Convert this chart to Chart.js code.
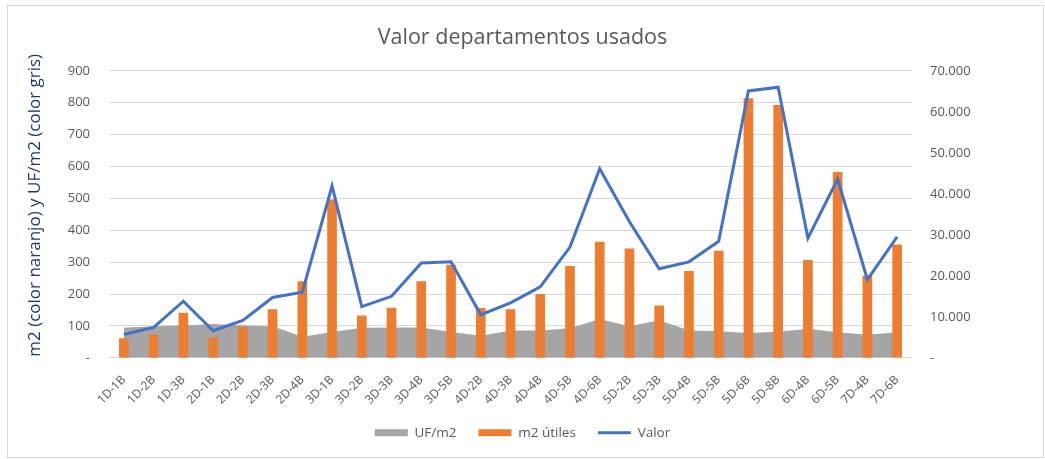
<!DOCTYPE html>
<html>
<head>
<meta charset="utf-8">
<script src="https://cdn.jsdelivr.net/npm/chart.js"></script>
<style>
    html, body { margin: 0; padding: 0; background: #ffffff; }
    #wrap { width: 1045px; height: 459px; }
</style>
</head>
<body>
<div id="wrap"><canvas id="graficoValor"></canvas></div>
<script>
const labels = [
    '1D-1B', '1D-2B', '1D-3B', '2D-1B', '2D-2B', '2D-3B', '2D-4B',
    '3D-1B', '3D-2B', '3D-3B', '3D-4B', '3D-5B',
    '4D-2B', '4D-3B', '4D-4B', '4D-5B', '4D-6B',
    '5D-2B', '5D-3B', '5D-4B', '5D-5B', '5D-6B', '5D-8B',
    '6D-4B', '6D-5B', '7D-4B', '7D-6B',
];

// UF/m2 (area gris)
const ufM2 = [94, 99, 101, 106, 101, 99, 66, 81, 94, 95, 95, 81, 69, 86, 86, 93, 122, 99, 118, 86, 83, 78, 82, 91, 80, 72, 80];

// m2 utiles (barras naranjas)
const m2Utiles = [60, 72, 140, 63, 96, 151, 239, 495, 132, 156, 239, 291, 155, 151, 199, 287, 363, 342, 163, 271, 335, 813, 792, 306, 582, 257, 354];

// Valor (linea azul, eje derecho)
const valor = [5700, 7400, 13800, 6600, 9100, 14700, 16000, 41900, 12500, 15000, 23100, 23400, 10500, 13400, 17300, 27000, 46100, 33200, 21700, 23400, 28400, 65100, 66000, 29200, 43600, 19100, 29500];

const ticksIzq = [0, 100, 200, 300, 400, 500, 600, 700, 800, 900];
const ticksDer = [0, 10000, 20000, 30000, 40000, 50000, 60000, 70000];

const tituloEjeIzq = 'm2 (color naranjo) y UF/m2 (color gris)';

const fuente = "'Open Sans', 'DejaVu Sans', sans-serif";
const gris = '#595959';

function formatoMiles(v) {
    if (v == 0) return '-';
    return String(v).replace(/\B(?=(\d{3})+(?!\d))/g, '.');
}

// borde del grafico (como el marco de Excel)
const marco = {
    id: 'marco',
    afterDraw(chart) {
        const ctx = chart.ctx;
        ctx.save();
        ctx.strokeStyle = '#d9d9d9';
        ctx.lineWidth = 1;
        ctx.strokeRect(7.5, 5.5, 1036, 452);
        ctx.restore();
    }
};

// titulo del eje izquierdo, un poco mas arriba que el centro del area
const tituloIzq = {
    id: 'tituloIzq',
    afterDraw(chart) {
        const ctx = chart.ctx;
        const area = chart.chartArea;
        ctx.save();
        ctx.translate(35, (area.top + area.bottom) / 2 - 9);
        ctx.rotate(-Math.PI / 2);
        ctx.fillStyle = '#1f3864';
        ctx.font = "17px 'Open Sans', 'DejaVu Sans', sans-serif";
        ctx.textAlign = 'center';
        ctx.textBaseline = 'middle';
        ctx.fillText(tituloEjeIzq, 0, 0);
        ctx.restore();
    }
};

const fondo = {
    id: 'fondo',
    beforeDraw(chart) {
        const ctx = chart.ctx;
        ctx.save();
        ctx.fillStyle = '#ffffff';
        ctx.fillRect(0, 0, chart.width, chart.height);
        ctx.restore();
    }
};

const data = {
    labels: labels,
    datasets: [
        {
            type: 'line',
            label: 'UF/m2',
            data: ufM2,
            yAxisID: 'y',
            backgroundColor: '#a5a5a5',
            borderColor: '#a5a5a5',
            borderWidth: 0,
            pointRadius: 0,
            pointStyle: 'rect',
            fill: 'origin',
            tension: 0,
            order: 3,
        },
        {
            type: 'bar',
            label: 'm2 útiles',
            data: m2Utiles,
            yAxisID: 'y',
            backgroundColor: '#ed7d31',
            borderWidth: 0,
            barThickness: 9,
            pointStyle: 'rect',
            order: 2,
        },
        {
            type: 'line',
            label: 'Valor',
            data: valor,
            yAxisID: 'y1',
            borderColor: '#4472c4',
            backgroundColor: '#4472c4',
            borderWidth: 3,
            pointRadius: 0,
            pointStyle: 'line',
            fill: false,
            tension: 0,
            order: 1,
        },
    ]
};

const config = {
    type: 'bar',
    data: data,
    plugins: [fondo, marco, tituloIzq],
    options: {
        responsive: true,
        maintainAspectRatio: false,
        animation: false,
        layout: { padding: { left: 0, right: 0, top: 0, bottom: 9.5 } },
        plugins: {
            title: {
                display: true,
                text: 'Valor departamentos usados',
                color: gris,
                font: { family: fuente, size: 21.5, weight: 'normal' },
                padding: { top: 25, bottom: 20 },
            },
            legend: {
                position: 'bottom',
                labels: {
                    color: gris,
                    font: { family: fuente, size: 13.5 },
                    usePointStyle: true,
                    pointStyleWidth: 33,
                    boxHeight: 7,
                    padding: 22,
                    sort: (a, b) => a.datasetIndex - b.datasetIndex,
                },
            },
            tooltip: { enabled: false },
        },
        scales: {
            x: {
                offset: true,
                grid: { display: false },
                border: { display: false },
                ticks: {
                    color: gris,
                    font: { family: fuente, size: 12 },
                    autoSkip: false,
                    maxRotation: 45,
                    minRotation: 45,
                    padding: 7,
                },
                afterFit(scale) { scale.height = 46.2; },
            },
            y: {
                position: 'left',
                min: 0,
                max: 900,
                afterBuildTicks(scale) { scale.ticks = ticksIzq.map(v => ({ value: v })); },
                grid: { color: '#d9d9d9', lineWidth: 1, drawTicks: false },
                border: { display: false },
                ticks: {
                    color: gris,
                    font: { family: fuente, size: 13 },
                    padding: 19,
                    callback: (v) => formatoMiles(v),
                },
                afterFit(scale) { scale.width = 109; },
            },
            y1: {
                position: 'right',
                min: 0,
                max: 70000,
                afterBuildTicks(scale) { scale.ticks = ticksDer.map(v => ({ value: v })); },
                grid: { display: false, drawTicks: false },
                border: { display: false },
                ticks: {
                    color: gris,
                    font: { family: fuente, size: 13 },
                    padding: 18,
                    callback: (v) => formatoMiles(v),
                },
                afterFit(scale) { scale.width = 133; },
            },
        },
    },
};

new Chart(document.getElementById('graficoValor'), config);
</script>
</body>
</html>
